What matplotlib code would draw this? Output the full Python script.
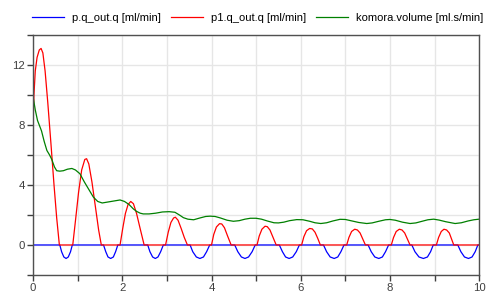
import matplotlib
matplotlib.use("Agg")
import matplotlib.pyplot as plt
from matplotlib.ticker import MultipleLocator

# p.q_out.q [ml/min]
p_t = [0.0, 0.60, 0.64, 0.69, 0.74, 0.79, 0.84, 0.88,
       1.58, 1.63, 1.68, 1.74, 1.80, 1.85, 1.90,
       2.57, 2.62, 2.68, 2.74, 2.80, 2.86, 2.92,
       3.52, 3.58, 3.66, 3.74, 3.82, 3.89, 3.96,
       4.52, 4.59, 4.67, 4.75, 4.83, 4.91, 4.98,
       5.52, 5.59, 5.66, 5.74, 5.82, 5.90, 5.97,
       6.51, 6.58, 6.66, 6.75, 6.83, 6.90, 6.97,
       7.51, 7.58, 7.66, 7.75, 7.83, 7.90, 7.97,
       8.49, 8.56, 8.65, 8.75, 8.84, 8.91, 8.97,
       9.52, 9.59, 9.67, 9.76, 9.84, 9.91, 9.97, 10.0]
p_q = [0, 0, -0.45, -0.8, -0.9, -0.8, -0.45, 0,
       0, -0.45, -0.8, -0.9, -0.8, -0.45, 0,
       0, -0.45, -0.8, -0.9, -0.8, -0.45, 0,
       0, -0.45, -0.8, -0.9, -0.8, -0.45, 0,
       0, -0.45, -0.8, -0.9, -0.8, -0.45, 0,
       0, -0.45, -0.8, -0.9, -0.8, -0.45, 0,
       0, -0.45, -0.8, -0.9, -0.8, -0.45, 0,
       0, -0.45, -0.8, -0.9, -0.8, -0.45, 0,
       0, -0.45, -0.8, -0.9, -0.8, -0.45, 0,
       0, -0.45, -0.8, -0.9, -0.8, -0.45, 0, 0]

# p1.q_out.q [ml/min]
p1_t = [0.00, 0.02, 0.05, 0.09, 0.14, 0.18, 0.22, 0.27, 0.33, 0.40, 0.47, 0.53, 0.59,
        0.89, 0.95, 1.02, 1.09, 1.16, 1.20, 1.25, 1.32, 1.40, 1.47, 1.53,
        1.95, 2.01, 2.07, 2.13, 2.19, 2.25, 2.32, 2.40, 2.49,
        2.97, 3.03, 3.09, 3.15, 3.19, 3.25, 3.32, 3.39, 3.46,
        4.00, 4.05, 4.11, 4.18, 4.23, 4.29, 4.36, 4.44,
        5.02, 5.07, 5.13, 5.20, 5.25, 5.31, 5.38, 5.45,
        6.02, 6.07, 6.13, 6.20, 6.26, 6.32, 6.38, 6.44,
        7.03, 7.08, 7.14, 7.21, 7.27, 7.33, 7.39, 7.45,
        8.03, 8.08, 8.14, 8.21, 8.27, 8.33, 8.39, 8.45,
        9.04, 9.09, 9.15, 9.21, 9.27, 9.33, 9.38, 9.43, 10.0]
p1_q = [8.0, 10.0, 11.6, 12.5, 13.0, 13.1, 12.8, 11.6, 9.5, 6.8, 4.0, 1.8, 0.0,
        0.0, 1.6, 3.5, 5.0, 5.7, 5.75, 5.4, 4.2, 2.5, 1.0, 0.0,
        0.0, 1.1, 2.1, 2.7, 2.9, 2.75, 2.1, 1.1, 0.0,
        0.0, 0.85, 1.5, 1.8, 1.85, 1.65, 1.1, 0.5, 0.0,
        0.0, 0.7, 1.2, 1.42, 1.40, 1.15, 0.6, 0.0,
        0.0, 0.6, 1.05, 1.25, 1.22, 1.0, 0.5, 0.0,
        0.0, 0.55, 0.95, 1.1, 1.07, 0.85, 0.45, 0.0,
        0.0, 0.5, 0.9, 1.05, 1.0, 0.8, 0.4, 0.0,
        0.0, 0.5, 0.9, 1.05, 1.0, 0.8, 0.4, 0.0,
        0.0, 0.5, 0.9, 1.05, 1.0, 0.8, 0.4, 0.0, 0.0]

# komora.volume [ml.s/min]
vol_t = [0.00, 0.05, 0.10, 0.19, 0.25, 0.31, 0.37, 0.42, 0.48, 0.53, 0.60, 0.68,
         0.77, 0.87, 0.95, 1.05, 1.15, 1.25, 1.35, 1.45, 1.55, 1.65, 1.75, 1.85,
         1.95, 2.05, 2.15, 2.25, 2.32, 2.40, 2.47, 2.60, 2.75, 2.90, 3.05, 3.18,
         3.28, 3.37, 3.47, 3.60, 3.74, 3.87, 3.97, 4.08, 4.20, 4.35, 4.49, 4.62,
         4.75, 4.87, 5.00, 5.12, 5.25, 5.40, 5.50, 5.62, 5.75, 5.91, 6.05, 6.20,
         6.32, 6.45, 6.58, 6.72, 6.88, 7.00, 7.15, 7.30, 7.48, 7.60, 7.75, 7.90,
         8.00, 8.12, 8.28, 8.45, 8.58, 8.72, 8.85, 8.98, 9.10, 9.25, 9.46, 9.60,
         9.75, 9.88, 10.0]
vol_v = [9.9, 9.0, 8.3, 7.6, 6.9, 6.3, 6.0, 5.7, 5.2, 4.95, 4.92, 4.95,
         5.05, 5.1, 5.0, 4.75, 4.2, 3.7, 3.2, 2.9, 2.8, 2.85, 2.9, 2.95,
         3.0, 2.9, 2.7, 2.4, 2.24, 2.12, 2.07, 2.07, 2.12, 2.2, 2.22, 2.18,
         2.0, 1.82, 1.72, 1.68, 1.8, 1.9, 1.92, 1.9, 1.8, 1.65, 1.58, 1.62,
         1.72, 1.78, 1.78, 1.72, 1.6, 1.48, 1.47, 1.52, 1.62, 1.69, 1.68, 1.58,
         1.48, 1.43, 1.48, 1.6, 1.71, 1.7, 1.6, 1.5, 1.43, 1.47, 1.58, 1.68,
         1.7, 1.65, 1.52, 1.43, 1.47, 1.58, 1.68, 1.72, 1.66, 1.55, 1.43, 1.48,
         1.6, 1.68, 1.72]

labels = ["p.q_out.q [ml/min]", "p1.q_out.q [ml/min]", "komora.volume [ml.s/min]"]

plt.rcParams["font.family"] = ["Liberation Sans", "DejaVu Sans"]
plt.rcParams["font.size"] = 8

fig = plt.figure(figsize=(4.86, 2.96), dpi=100)
ax = fig.add_axes([0.068, 0.071, 0.918, 0.811])

ax.plot(p_t, p_q, color="#0000ff", lw=0.9, label=labels[0])
ax.plot(p1_t, p1_q, color="#ff0000", lw=0.9, label=labels[1])
ax.plot(vol_t, vol_v, color="#008000", lw=0.9, label=labels[2])

ax.set_xlim(0, 10)
ax.set_ylim(-2, 14)
ax.xaxis.set_major_locator(MultipleLocator(2))
ax.xaxis.set_minor_locator(MultipleLocator(1))
ax.yaxis.set_major_locator(MultipleLocator(4))
ax.yaxis.set_minor_locator(MultipleLocator(2))
ax.grid(True, which="both", color="#e6e6e6", lw=1)
ax.set_axisbelow(True)
ax.tick_params(which="both", direction="out", length=4, width=1,
               color="#404040", labelcolor="#404040", labelsize=8.2, pad=2)
for s in ax.spines.values():
    s.set_color("#505050")
    s.set_linewidth(1)

fig.legend(loc="center left", bbox_to_anchor=(0.056, 0.94), ncol=3, frameon=False,
           handlelength=2.9, handletextpad=0.7, columnspacing=0.9, borderaxespad=0,
           fontsize=8)

fig.savefig("out.png", dpi=100)
